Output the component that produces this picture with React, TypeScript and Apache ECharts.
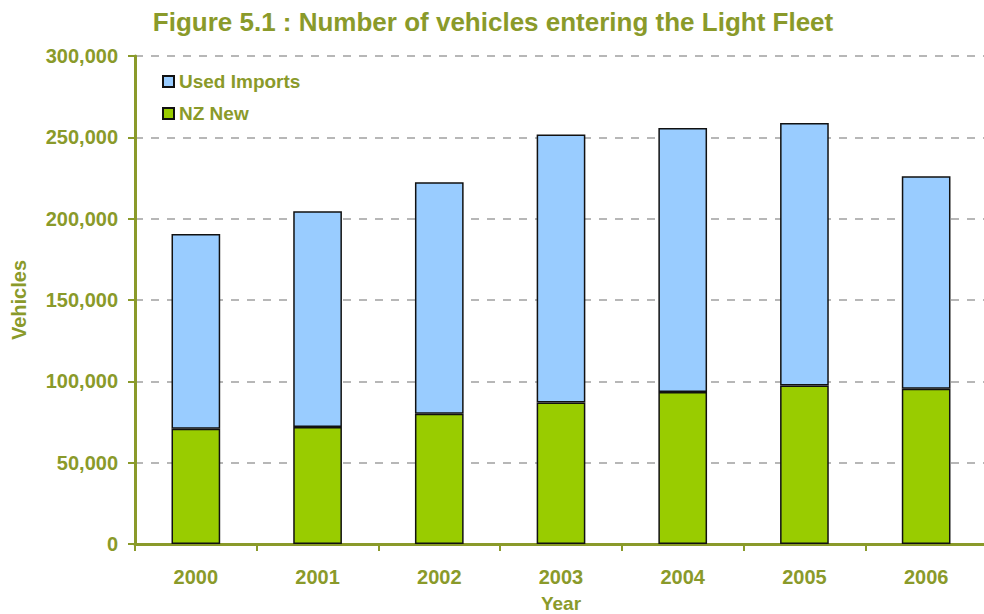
import React, { useEffect, useRef } from "react";
import * as echarts from "echarts";

const years = ["2000", "2001", "2002", "2003", "2004", "2005", "2006"];
const nzNew = [70800, 71900, 80000, 87000, 93400, 97500, 95400];
const usedImports = [119800, 132600, 142400, 164700, 162300, 161300, 130600];

const OLIVE = "#8A9A2A";
const FONT = "'Liberation Sans', Arial, sans-serif";

export default function App() {
  const ref = useRef<HTMLDivElement>(null);
  useEffect(() => {
    const chart = echarts.init(ref.current!, null, { renderer: "svg" });
    chart.setOption({
      animation: false,
      backgroundColor: "#ffffff",
      textStyle: { fontFamily: FONT },
      title: {
        text: "Figure 5.1 : Number of vehicles entering the Light Fleet",
        left: 488,
        textAlign: "center",
        top: 4,
        textStyle: { color: OLIVE, fontSize: 26, fontWeight: "bold", fontFamily: FONT },
      },
      legend: {
        orient: "vertical",
        left: 157,
        top: 67,
        icon: "rect",
        itemWidth: 11,
        itemHeight: 11,
        itemGap: 13,
        data: ["Used Imports", "NZ New"],
        textStyle: { color: OLIVE, fontSize: 19, fontWeight: "bold", fontFamily: FONT },
      },
      grid: {
        left: 135,
        right: -3,
        top: 56,
        bottom: 70,
        containLabel: false,
        outerBoundsMode: "none",
      },
      xAxis: {
        type: "category",
        data: years,
        name: "Year",
        nameLocation: "middle",
        nameGap: 50,
        nameTextStyle: { color: OLIVE, fontSize: 19, fontWeight: "bold", fontFamily: FONT },
        axisLine: { lineStyle: { color: OLIVE, width: 3 } },
        axisTick: { show: true, length: 7, lineStyle: { color: OLIVE, width: 2 } },
        axisLabel: { color: OLIVE, fontSize: 20, fontWeight: "bold", margin: 23, fontFamily: FONT },
      },
      yAxis: {
        type: "value",
        min: 0,
        max: 300000,
        interval: 50000,
        name: "Vehicles",
        nameLocation: "middle",
        nameGap: 106,
        nameTextStyle: { color: OLIVE, fontSize: 20, fontWeight: "bold", fontFamily: FONT },
        axisLine: { show: true, lineStyle: { color: OLIVE, width: 3 } },
        axisTick: { show: true, length: 7, lineStyle: { color: OLIVE, width: 2 } },
        axisLabel: {
          color: OLIVE,
          fontSize: 20,
          fontWeight: "bold",
          margin: 17,
          fontFamily: FONT,
          formatter: (v: number) => v.toLocaleString("en-US"),
        },
        splitLine: { show: true, lineStyle: { color: "#a0a0a0", type: [8, 8], width: 1.5 } },
      },
      series: [
        {
          name: "NZ New",
          type: "bar",
          stack: "total",
          data: nzNew,
          barWidth: "40%",
          itemStyle: { color: "#99CC00", borderColor: "#111111", borderWidth: 1.5 },
        },
        {
          name: "Used Imports",
          type: "bar",
          stack: "total",
          data: usedImports,
          barWidth: "40%",
          itemStyle: { color: "#99CCFF", borderColor: "#111111", borderWidth: 1.5 },
        },
      ],
    });
    return () => chart.dispose();
  }, []);
  return (
    <div
      ref={ref}
      style={{ position: "fixed", left: 0, top: 0, width: 984, height: 614 }}
    />
  );
}
